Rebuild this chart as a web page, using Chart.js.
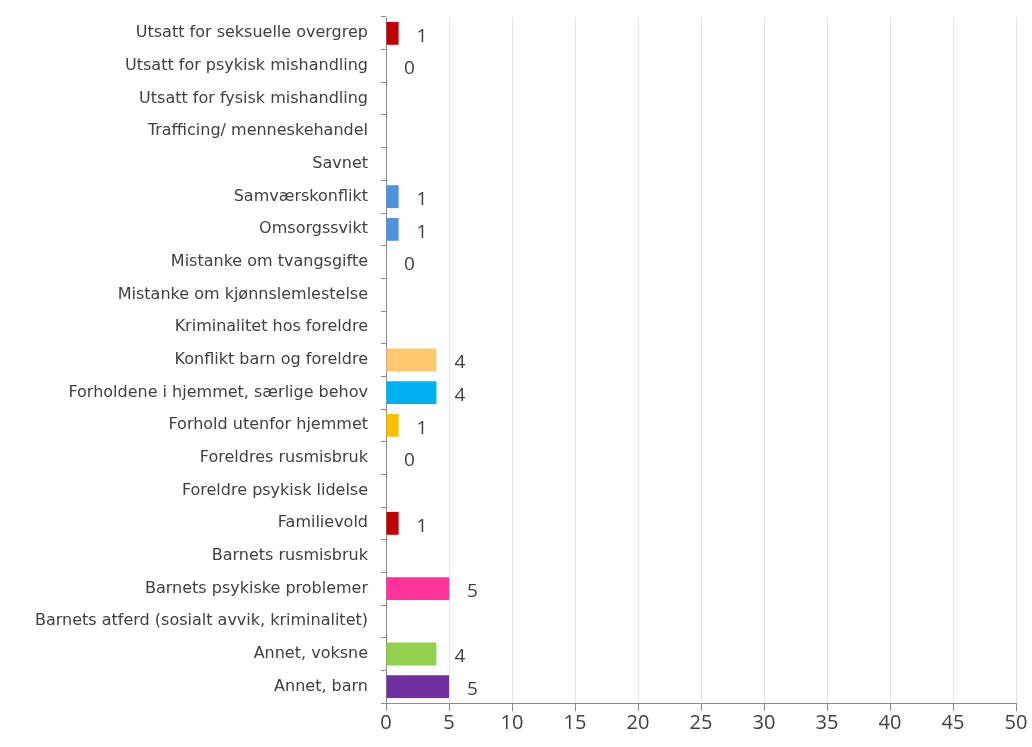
<!DOCTYPE html>
<html>
<head>
<meta charset="utf-8">
<script src="https://cdn.jsdelivr.net/npm/chart.js@4"></script>
<style>
  html, body { margin: 0; padding: 0; background: #fff; }
  #wrap { width: 1032px; height: 747px; }
</style>
</head>
<body>
<div id="wrap"><canvas id="chart"></canvas></div>
<script>
// Categories, top to bottom
const categories = [
  'Utsatt for seksuelle overgrep',
  'Utsatt for psykisk mishandling',
  'Utsatt for fysisk mishandling',
  'Trafficing/ menneskehandel',
  'Savnet',
  'Samværskonflikt',
  'Omsorgssvikt',
  'Mistanke om tvangsgifte',
  'Mistanke om kjønnslemlestelse',
  'Kriminalitet hos foreldre',
  'Konflikt barn og foreldre',
  'Forholdene i hjemmet, særlige behov',
  'Forhold utenfor hjemmet',
  'Foreldres rusmisbruk',
  'Foreldre psykisk lidelse',
  'Familievold',
  'Barnets rusmisbruk',
  'Barnets psykiske problemer',
  'Barnets atferd (sosialt avvik, kriminalitet)',
  'Annet, voksne',
  'Annet, barn'
];
// null = no value shown
const counts = [1, 0, null, null, null, 1, 1, 0, null, null, 4, 4, 1, 0, null, 1, null, 5, null, 4, 5];
const barColors = [
  '#C00000', '#C00000', '#C00000', '#C00000', '#C00000',
  '#4F93DC', '#4F93DC', '#4F93DC', '#4F93DC', '#4F93DC',
  '#FFC870', '#00B0F0', '#FFC000', '#FFC000', '#C00000',
  '#C00000', '#FF3399', '#FF3399', '#92D050', '#92D050', '#7030A0'
];
const xTicks = [0, 5, 10, 15, 20, 25, 30, 35, 40, 45, 50];

// draw the numbers at the end of each bar
const valueLabels = {
  id: 'valueLabels',
  afterDatasetsDraw(chart) {
    const ctx = chart.ctx;
    const meta = chart.getDatasetMeta(0);
    ctx.save();
    ctx.font = '19px "Open Sans", sans-serif';
    ctx.fillStyle = '#404040';
    ctx.textAlign = 'left';
    ctx.textBaseline = 'middle';
    meta.data.forEach((bar, i) => {
      const v = counts[i];
      if (v === null) return;
      ctx.fillText(String(v), bar.x + 18, bar.y + 3);
    });
    ctx.restore();
  }
};

new Chart(document.getElementById('chart').getContext('2d'), {
  type: 'bar',
  data: {
    labels: categories,
    datasets: [{
      data: counts,
      backgroundColor: barColors,
      borderWidth: 0,
      categoryPercentage: 1,
      barPercentage: 0.7
    }]
  },
  options: {
    indexAxis: 'y',
    responsive: true,
    maintainAspectRatio: false,
    animation: false,
    layout: { padding: { top: 17, right: 16, bottom: 0, left: 0 } },
    plugins: { legend: { display: false }, tooltip: { enabled: false } },
    scales: {
      x: {
        min: 0, max: 50,
        afterBuildTicks(axis) { axis.ticks = xTicks.map(v => ({ value: v })); },
        afterFit(axis) { axis.height = 44; },
        grid: { color: '#dfe6ee', tickColor: '#8c8c8c', tickLength: 8 },
        border: { color: '#8c8c8c' },
        ticks: { color: '#404040', font: { family: 'Open Sans', size: 20 }, padding: 0 }
      },
      y: {
        afterFit(axis) {
          axis.width = 386;
          axis.paddingTop = 0;
          axis.paddingBottom = 0;
        },
        grid: { drawOnChartArea: false, offset: true, tickColor: '#8c8c8c', tickLength: 5 },
        border: { color: '#8c8c8c' },
        ticks: { color: '#404040', font: { family: 'DejaVu Sans', size: 16 }, padding: 13, autoSkip: false }
      }
    }
  },
  plugins: [valueLabels]
});
</script>
</body>
</html>
